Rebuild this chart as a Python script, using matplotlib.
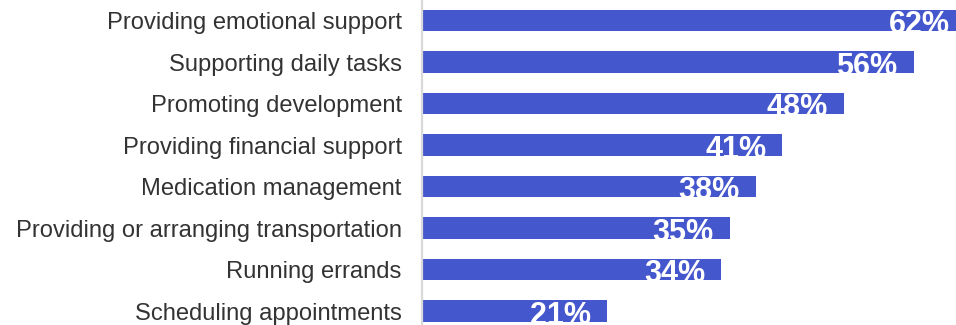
import matplotlib.pyplot as plt

# Share of caregivers doing each task
tareas = [
    "Providing emotional support",
    "Supporting daily tasks",
    "Promoting development",
    "Providing financial support",
    "Medication management",
    "Providing or arranging transportation",
    "Running errands",
    "Scheduling appointments",
]
porcentajes = [62, 56, 48, 41, 38, 35, 34, 21]

plt.rcParams['font.family'] = ['Liberation Sans', 'DejaVu Sans']

fig = plt.figure(figsize=(9.56, 3.25), dpi=100)
ax = fig.add_axes([422 / 956, 0, 534 / 956, 1])

posiciones = list(range(len(tareas)))
ax.barh(posiciones, porcentajes, height=0.52, color='#4557CC')

# Etiquetas de valor dentro del extremo de cada barra
for y, v in zip(posiciones, porcentajes):
    ax.annotate(f"{v}%", xy=(v, y), xytext=(-11.5, -9.3), textcoords='offset points',
                ha='right', va='baseline', color='white', fontsize=22, fontweight='bold',
                annotation_clip=False)

ax.set_xlim(-0.15, 60.85)
ax.set_ylim(7.337, -0.494)
ax.set_yticks(posiciones)
ax.set_yticklabels(tareas, fontsize=17.1, color='#333333')
ax.tick_params(axis='y', length=0, pad=14.5)
ax.set_xticks([])

for lado in ['top', 'right', 'bottom']:
    ax.spines[lado].set_visible(False)
ax.spines['left'].set_color('#d9d9d9')
ax.spines['left'].set_linewidth(1.6)

fig.savefig('out.png', dpi=100)
